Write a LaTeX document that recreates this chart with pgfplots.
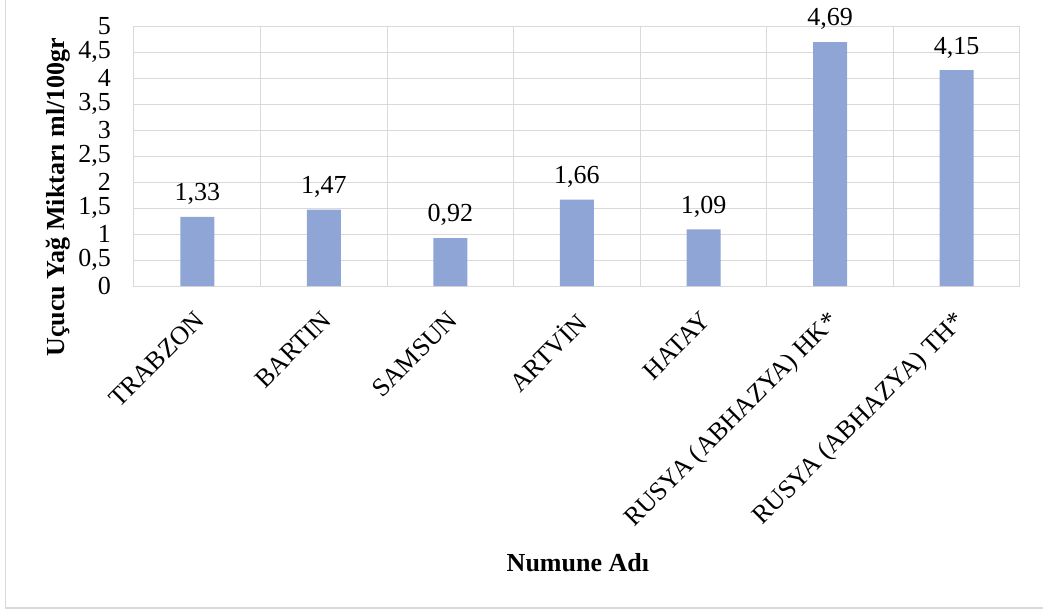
\documentclass[border=0pt]{standalone}
\usepackage{fontspec}
\setmainfont{Liberation Serif}
\usepackage{pgfplots}
\pgfplotsset{compat=1.18}
\definecolor{barblue}{RGB}{143,165,213}
\definecolor{gridgray}{RGB}{217,217,217}
\newcommand\fs{\fontsize{26bp}{30bp}\selectfont}
\begin{document}
\begin{tikzpicture}
\useasboundingbox (-134bp,-325bp) rectangle (909bp,286bp);
\draw[gridgray, line width=1.5bp] (-128.5bp,300bp) -- (-128.5bp,-322bp) -- (920bp,-322bp);
\begin{axis}[
  at={(0,0)}, anchor=south west,
  scale only axis, width=886bp, height=260bp,
  xmin=-0.5, xmax=6.5, ymin=0, ymax=5,
  clip=false,
  ybar, bar width=34bp,
  ytick={0,0.5,1,1.5,2,2.5,3,3.5,4,4.5,5},
  xtick={0,1,2,3,4,5,6},
  xticklabels={TRABZON,BARTIN,SAMSUN,ARTVİN,HATAY,RUSYA (ABHAZYA) HK*,RUSYA (ABHAZYA) TH*},
  minor xtick={-0.5,0.5,1.5,2.5,3.5,4.5,5.5,6.5},
  xminorgrids=true, ymajorgrids=true, xmajorgrids=false,
  grid style={draw=gridgray, line width=1bp},
  minor grid style={draw=gridgray, line width=1bp},
  axis line style={draw=gridgray, line width=1bp},
  major tick length=0pt, minor tick length=0pt,
  /pgf/number format/assume math mode=true,
  /pgf/number format/use comma,
  tick label style={font=\fs},
  yticklabel style={inner sep=0pt, xshift=-23bp},
  xticklabel style={rotate=45, anchor=north east, inner sep=0pt, xshift=-5bp},
  xticklabel shift=20bp,
  ylabel={Uçucu Yağ Miktarı ml/100gr},
  xlabel={Numune Adı},
  every axis y label/.style={font=\fs\bfseries, at={(axis description cs:-0.085,0.342)}, anchor=center, rotate=90},
  every axis x label/.style={font=\fs\bfseries, at={(axis description cs:0.501,-1.065)}, anchor=center},
  nodes near coords={\pgfmathprintnumber[assume math mode=true,use comma,fixed,fixed zerofill,precision=2]{\pgfplotspointmeta}},
  nodes near coords style={font=\fs, inner sep=0pt, anchor=south, yshift=12bp},
]
\addplot[fill=barblue, draw=none] coordinates {(0,1.33) (1,1.47) (2,0.92) (3,1.66) (4,1.09) (5,4.69) (6,4.15)};
\end{axis}
\end{tikzpicture}
\end{document}
